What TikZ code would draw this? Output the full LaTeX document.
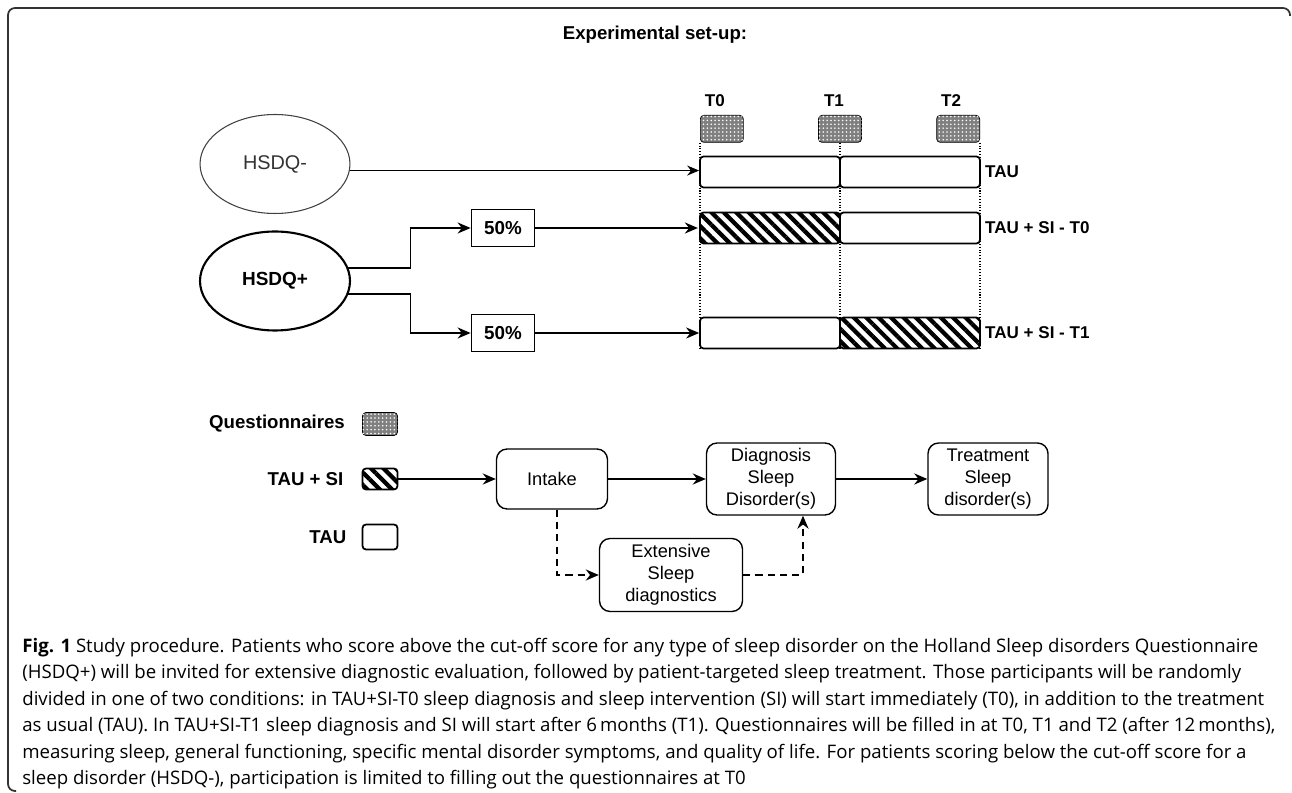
\documentclass[tikz,border=0pt]{standalone}
\usepackage{fontspec}
\setmainfont{Liberation Sans}
\newfontfamily\captionfont{Open Sans}
\usetikzlibrary{arrows.meta, positioning, patterns.meta, shapes.geometric}

\begin{document}
\begin{tikzpicture}[
  x=0.02cm, y=-0.02cm,
  lbl/.style={font=\fontsize{10.6}{12}\selectfont\bfseries, inner sep=0},
  tlbl/.style={font=\fontsize{9.7}{11}\selectfont\bfseries, inner sep=0},
  grp/.style={ellipse, draw, minimum width=3cm, minimum height=1.98cm, inner sep=0},
  pct/.style={draw, line width=1pt, minimum width=1.26cm, minimum height=0.74cm, font=\fontsize{10.7}{12}\selectfont\bfseries, inner sep=0},
  bar/.style={draw, line width=1pt, rounded corners=2pt, minimum width=2.8cm, minimum height=0.62cm, inner sep=0},
  hatch/.style={bar, pattern={Lines[angle=-45, distance=5pt, line width=2.4pt]}},
  quest/.style={draw, rounded corners=2pt, fill=black!50, postaction={pattern color=white, pattern={Dots[distance=2.2pt, radius=0.5pt]}}, minimum width=0.86cm, minimum height=0.54cm, inner sep=0},
  box/.style={draw, line width=0.8pt, rounded corners=6pt, align=center, font=\fontsize{10.4}{12.5}\selectfont, inner sep=0},
  arr/.style={-{Stealth[length=2.6mm, width=2.2mm]}, line width=1.1pt},
  darr/.style={arr, dash pattern=on 4pt off 3pt},
  guide/.style={densely dotted, line width=0.6pt}
]
\useasboundingbox (0,0) rectangle (1292,793);
\draw[line width=1pt, black!80, rounded corners=4pt] (1290,16) -- (1290,8) -- (8,8) -- (8,791) -- (16,791);

\node[lbl] (ttl) at (655,35) {Experimental set-up:};

% groups
\node[grp, line width=0.6pt, black!75, text=black!80, font=\fontsize{11.3}{13}\selectfont] (hneg) at (275,164) {HSDQ-};
\node[grp, line width=1.2pt, font=\fontsize{10.8}{13}\selectfont\bfseries] (hpos) at (275,281) {HSDQ+};
\node[pct] (p1) at (503,228) {50\%};
\node[pct] (p2) at (503,333) {50\%};

% time line
\node[quest, anchor=north west] (q0) at (700,115) {};
\node[quest, anchor=north] (q1) at (840,115) {};
\node[quest, anchor=north east] (q2) at (980,115) {};
\node[tlbl, above=0.16cm of q0, xshift=-0.14cm] {T0};
\node[tlbl, above=0.16cm of q1, xshift=-0.12cm] {T1};
\node[tlbl, above=0.16cm of q2, xshift=-0.14cm] {T2};

\node[bar] (tau1) at (770,172) {};
\node[bar] (tau2) at (910,172) {};
\node[hatch] (si0a) at (770,228) {};
\node[bar] (si0b) at (910,228) {};
\node[bar] (si1a) at (770,333) {};
\node[hatch] (si1b) at (910,333) {};
\node[tlbl, right=0.08cm of tau2] {TAU};
\node[tlbl, right=0.08cm of si0b] {TAU + SI - T0};
\node[tlbl, right=0.08cm of si1b] {TAU + SI - T1};

\draw[guide] (q0.south west) -- (q0.south west |- si1a.south);
\draw[guide] (q1.south) -- (q1.south |- si1a.south);
\draw[guide] (q2.south east) -- (q2.south east |- si1b.south);

\draw[-{Stealth[length=2.4mm, width=2mm]}, line width=0.7pt] (hneg.-5) -- (hneg.-5 -| tau1.west);
\draw[arr] (hpos.10) -- ++(62,0) |- (p1);
\draw[arr] (hpos.-10) -- ++(62,0) |- (p2);
\draw[arr] (p1) -- (si0a);
\draw[arr] (p2) -- (si1a);

% legend
\node[quest, minimum width=0.7cm, minimum height=0.46cm] (lq) at (380,424) {};
\node[hatch, minimum width=0.7cm, minimum height=0.42cm] (lh) at (380,479) {};
\node[bar, minimum width=0.7cm, minimum height=0.5cm] (lt) at (380,537) {};
\node[lbl, left=0.34cm of lq] {Questionnaires};
\node[lbl, left=0.36cm of lh] {TAU + SI};
\node[lbl, left=0.3cm of lt] {TAU};

% procedure
\node[box, minimum width=2.22cm, minimum height=1.2cm] (intake) at (552,479) {Intake};
\node[box, minimum width=2.58cm, minimum height=1.44cm] (diag) at (771,479) {Diagnosis\\Sleep\\Disorder(s)};
\node[box, minimum width=2.4cm, minimum height=1.44cm] (treat) at (988,479) {Treatment\\Sleep\\disorder(s)};
\node[box, minimum width=2.86cm, minimum height=1.46cm] (ext) at (671,575) {Extensive\\Sleep\\diagnostics};

\draw[arr] (lh) -- (intake);
\draw[arr] (intake) -- (diag);
\draw[arr] (diag) -- (treat);
\draw[darr] ([xshift=0.1cm]intake.south) |- (ext.west);
\draw[darr] (ext.east) -| ([xshift=0.64cm]diag.south);

% caption
\node[anchor=north west, inner sep=0, align=left, font=\captionfont\fontsize{10.6}{15}\selectfont] (cap) at (22,638)
{\textbf{Fig. 1} Study procedure. Patients who score above the cut-off score for any type of sleep disorder on the Holland Sleep disorders Questionnaire\\
(HSDQ+) will be invited for extensive diagnostic evaluation, followed by patient-targeted sleep treatment. Those participants will be randomly\\
divided in one of two conditions: in TAU+SI-T0 sleep diagnosis and sleep intervention (SI) will start immediately (T0), in addition to the treatment\\
as usual (TAU). In TAU+SI-T1 sleep diagnosis and SI will start after 6\,months (T1). Questionnaires will be filled in at T0, T1 and T2 (after 12\,months),\\
measuring sleep, general functioning, specific mental disorder symptoms, and quality of life. For patients scoring below the cut-off score for a\\
sleep disorder (HSDQ-), participation is limited to filling out the questionnaires at T0};
\end{tikzpicture}
\end{document}
